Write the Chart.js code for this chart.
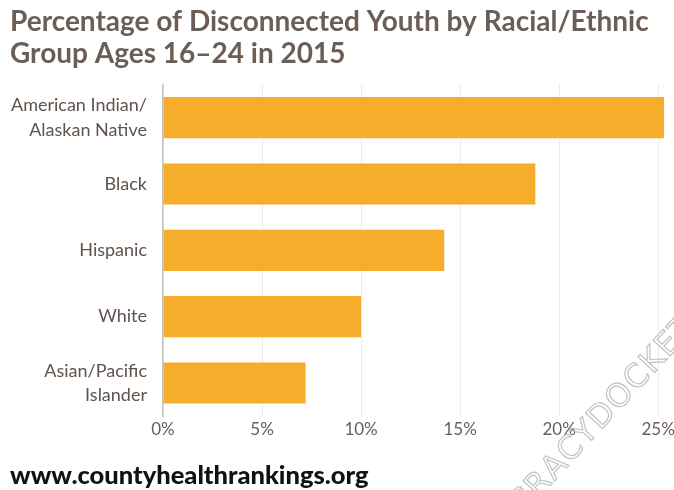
<!DOCTYPE html>
<html>
<head>
<meta charset="utf-8">
<title>Disconnected Youth by Racial/Ethnic Group</title>
<script src="https://cdn.jsdelivr.net/npm/chart.js@4.4.1/dist/chart.umd.min.js"></script>
<style>
    html, body {
        margin: 0;
        padding: 0;
        background: #ffffff;
    }
    #wrap {
        position: relative;
        width: 674px;
        height: 490px;
    }
</style>
</head>
<body>
<div id="wrap"><canvas id="youthChart"></canvas></div>
<script>
// group labels (multi-line where the label wraps)
const groups = [
    ["American Indian/", "Alaskan Native"],
    "Black",
    "Hispanic",
    "White",
    ["Asian/Pacific", "Islander"],
];

// percent of youth ages 16-24 not in school and not working
const disconnectedPct = [25.3, 18.8, 14.2, 10.0, 7.2];

const xTickValues = [0, 5, 10, 15, 20, 25];

const titleLines = [
    "Percentage of Disconnected Youth by Racial/Ethnic",
    "Group Ages 16\u201324 in 2015",
];
const footerText = "www.countyhealthrankings.org";
const watermarkText = "DEMOCRACYDOCKET";

const barColor = "#F6AD2B";
const titleColor = "#6b5e56";
const labelColor = "#5f534c";

// faint outlined stamp across the lower right corner.
// letters are placed one by one so the spacing doesn't depend on
// canvas letterSpacing support; the anchor sits at the left of the "R"
const watermarkPlugin = {
    id: "watermark",
    afterDraw(chart) {
        const ctx = chart.ctx;
        const gap = 1.5;
        ctx.save();
        ctx.font = '32px "DejaVu Sans"';
        ctx.translate(532, 493);
        ctx.rotate(-0.824);
        ctx.textBaseline = "middle";
        ctx.textAlign = "left";
        ctx.strokeStyle = "#c2c2c2";
        ctx.lineWidth = 1.2;

        const splitAt = watermarkText.indexOf("RACY");
        let x = 0;
        for (let i = 0; i < splitAt; i++) {
            x -= ctx.measureText(watermarkText[i]).width + gap;
        }
        for (const ch of watermarkText) {
            ctx.strokeText(ch, x, 0);
            x += ctx.measureText(ch).width + gap;
        }
        ctx.restore();
    },
};

const ctx = document.getElementById("youthChart").getContext("2d");

new Chart(ctx, {
    type: "bar",
    data: {
        labels: groups,
        datasets: [
            {
                data: disconnectedPct,
                backgroundColor: barColor,
                borderWidth: 0,
                barPercentage: 0.62,
                categoryPercentage: 1,
            },
        ],
    },
    options: {
        indexAxis: "y",
        responsive: true,
        maintainAspectRatio: false,
        animation: false,
        layout: {
            padding: { left: 10, right: 0, top: 0, bottom: 0 },
        },
        scales: {
            x: {
                min: 0,
                max: 25.8,
                afterBuildTicks: (scale) => {
                    scale.ticks = xTickValues.map((v) => ({ value: v }));
                },
                afterFit: (scale) => {
                    // let the last label run to the canvas edge
                    scale.paddingRight = 0;
                },
                ticks: {
                    callback: (v) => v + "%",
                    color: titleColor,
                    font: { family: "Lato", size: 17 },
                    padding: 3,
                    maxRotation: 0,
                },
                grid: {
                    color: "#ebebeb",
                    drawTicks: false,
                },
                border: { display: false },
            },
            y: {
                afterFit: (scale) => {
                    scale.width = 153;
                },
                ticks: {
                    color: labelColor,
                    font: { family: "Lato", size: 18, lineHeight: 1.35 },
                    padding: 16,
                },
                grid: { display: false, drawTicks: false },
                border: { display: true, color: "#c4c4c4", width: 1.5 },
            },
        },
        plugins: {
            legend: { display: false },
            tooltip: { enabled: false },
            title: {
                display: true,
                text: titleLines,
                align: "start",
                color: titleColor,
                font: { family: "Lato", size: 28, weight: "bold", lineHeight: 1.143 },
                padding: { top: 6, bottom: 14.5 },
            },
            subtitle: {
                display: true,
                position: "bottom",
                text: footerText,
                align: "start",
                color: "#111111",
                font: { family: "Lato", size: 25.5, weight: 900, lineHeight: 0.9 },
                padding: { top: 22, bottom: 2.5 },
            },
        },
    },
    plugins: [watermarkPlugin],
});
</script>
</body>
</html>
